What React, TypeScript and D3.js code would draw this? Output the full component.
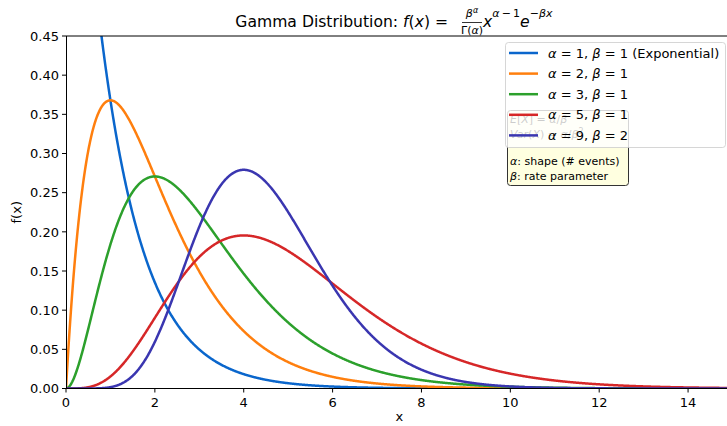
import React from "react";
import * as d3 from "d3";

// Gamma distribution parameters (shape alpha, rate beta) for each curve
const alphas = [1, 2, 3, 5, 9];
const betas = [1, 1, 1, 1, 2];
const seriesNotes = [" (Exponential)", "", "", "", ""];
const colors = ["#0a66cc", "#ff7f0e", "#2ca02c", "#d62728", "#3a36b0"];
const xTicks = [0, 2, 4, 6, 8, 10, 12, 14];
const yTicks = [0, 0.05, 0.1, 0.15, 0.2, 0.25, 0.3, 0.35, 0.4, 0.45];
const xDomain = [0, 15];
const yDomain = [0, 0.45];

const W = 727;
const H = 426;
const FONT = "DejaVu Sans, sans-serif";

const left = 66;
const right = 732.5;
const top = 36;
const bottom = 388.5;

// Gamma function for positive integer shape
function gammaFn(a: number): number {
  let r = 1;
  for (let k = 2; k < a; k++) r *= k;
  return r;
}

function gammaPdf(x: number, a: number, b: number): number {
  if (x <= 0) return a === 1 ? b : 0;
  return (Math.pow(b, a) * Math.pow(x, a - 1) * Math.exp(-b * x)) / gammaFn(a);
}

const I = (s: string) => <tspan fontStyle="italic">{s}</tspan>;

export default function App() {
  const x = d3.scaleLinear().domain(xDomain).range([left, right]);
  const y = d3.scaleLinear().domain(yDomain).range([bottom, top]);
  const grid = d3.range(0, 15.0001, 0.01);
  const line = d3
    .line<number[]>()
    .x((d) => x(d[0]))
    .y((d) => y(d[1]));

  const legendRowY = (i: number) => 53 + i * 20.6;

  return (
    <div style={{ position: "absolute", left: 0, top: 0 }}>
      <svg width={W} height={H} style={{ display: "block", background: "#fff" }} fontFamily={FONT}>
        <defs>
          <clipPath id="plotClip">
            <rect x={left} y={top} width={right - left} height={bottom - top} />
          </clipPath>
        </defs>

        {/* curves */}
        <g clipPath="url(#plotClip)">
          {alphas.map((a, i) => (
            <path
              key={i}
              d={line(grid.map((v) => [v, gammaPdf(v, a, betas[i])])) || ""}
              fill="none"
              stroke={colors[i]}
              strokeWidth={2.5}
              strokeLinejoin="round"
            />
          ))}
        </g>

        {/* spines */}
        <line x1={left + 0.5} x2={left + 0.5} y1={top} y2={bottom} stroke="#000" strokeWidth={1} />
        <line x1={left} x2={right} y1={bottom} y2={bottom} stroke="#000" strokeWidth={1} />
        <line x1={left} x2={right} y1={top} y2={top} stroke="#000" strokeWidth={1} />

        {/* x axis */}
        {xTicks.map((t) => (
          <g key={t}>
            <line x1={x(t)} x2={x(t)} y1={bottom} y2={bottom + 4} stroke="#000" strokeWidth={1} />
            <text x={x(t)} y={bottom + 18} fontSize={13} textAnchor="middle" fill="#000">
              {t}
            </text>
          </g>
        ))}
        <text x={(left + right) / 2} y={421} fontSize={13} textAnchor="middle">
          x
        </text>

        {/* y axis */}
        {yTicks.map((t) => (
          <g key={t}>
            <line x1={left - 4} x2={left} y1={y(t)} y2={y(t)} stroke="#000" strokeWidth={1} />
            <text x={left - 7} y={y(t) + 4.7} fontSize={13} textAnchor="end" fill="#000">
              {t.toFixed(2)}
            </text>
          </g>
        ))}
        <text
          transform={`translate(21,${(top + bottom) / 2}) rotate(-90)`}
          fontSize={13}
          textAnchor="middle"
        >
          f(x)
        </text>

        {/* title with formula */}
        <g fill="#000">
          <text x={448} y={27} fontSize={15.6} textAnchor="end">
            Gamma Distribution: {I("f")}({I("x")}) =
          </text>
          <text x={472} y={17} fontSize={11} textAnchor="middle">
            {I("β")}
            <tspan fontSize={8} dy={-4} fontStyle="italic">
              α
            </tspan>
          </text>
          <line x1={462} x2={482} y1={22.5} y2={22.5} stroke="#000" strokeWidth={0.8} />
          <text x={472} y={34} fontSize={11} textAnchor="middle">
            Γ({I("α")})
          </text>
          <text x={483} y={27} fontSize={15.6}>
            {I("x")}
            <tspan fontSize={11} dy={-10}>
              {I("α")}
              {"\u2009−\u20091"}
            </tspan>
            <tspan dy={10} fontStyle="italic">
              e
            </tspan>
            <tspan fontSize={11} dy={-10}>
              −{I("βx")}
            </tspan>
          </text>
        </g>

        {/* annotation box with moments and parameter meaning */}
        <g>
          <rect x={507.5} y={110.5} width={121} height={75} rx={3} fill="#ffffe0" stroke="#333" strokeWidth={1} />
          <text x={510} y={123} fontSize={11}>
            {I("E")}[{I("X")}] = {I("α")}/{I("β")}
          </text>
          <text x={510} y={137.5} fontSize={11}>
            {I("Var")}({I("X")}) = {I("α")}/{I("β")}
            <tspan fontSize={8} dy={-4}>
              2
            </tspan>
          </text>
          <text x={510} y={165} fontSize={11}>
            {I("α")}: shape (# events)
          </text>
          <text x={510} y={180} fontSize={11}>
            {I("β")}: rate parameter
          </text>
        </g>

        {/* legend */}
        <g>
          <rect
            x={505.5}
            y={42.5}
            width={220}
            height={105}
            rx={3}
            fill="#fff"
            fillOpacity={0.8}
            stroke="#ccc"
            strokeOpacity={0.8}
            strokeWidth={1}
          />
          {alphas.map((a, i) => (
            <g key={i}>
              <line
                x1={509}
                x2={538}
                y1={legendRowY(i)}
                y2={legendRowY(i)}
                stroke={colors[i]}
                strokeWidth={2.5}
              />
              <text x={548} y={legendRowY(i) + 4.6} fontSize={13}>
                {I("α")} = {a}, {I("β")} = {betas[i]}
                {seriesNotes[i]}
              </text>
            </g>
          ))}
        </g>
      </svg>
    </div>
  );
}
